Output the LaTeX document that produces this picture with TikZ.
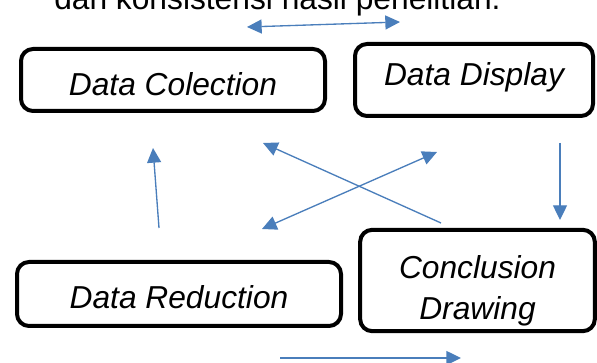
\documentclass[tikz,border=0pt]{standalone}
\usepackage{fontspec}
\setmainfont{Liberation Sans}
\usetikzlibrary{arrows.meta}

\definecolor{flowBlue}{RGB}{74,126,187}

\tikzset{
  stage/.style={draw=black, line width=3pt, rounded corners=9pt, fill=white,
    font=\fontsize{23.8}{30.75}\selectfont\itshape, align=center, inner sep=0pt},
  flow/.style={draw=flowBlue, line width=1pt, -{Triangle[length=11pt,width=10.5pt]}},
  flowBoth/.style={flow, {Triangle[length=11pt,width=10.5pt]}-{Triangle[length=11pt,width=10.5pt]}}
}

\begin{document}
\begin{tikzpicture}[x=0.75pt, y=-0.75pt]
\useasboundingbox (0,0) rectangle (597,363);

\node[anchor=base west, inner sep=0pt, font=\fontsize{23.8}{30}\selectfont] (caption) at (54,10) {dan konsistensi hasil penelitian.};

\node[stage, minimum width=228pt, minimum height=46.5pt, text height=23pt, text depth=0pt] (dataCollection) at (173,80) {Data Colection};
\node[stage, minimum width=178.5pt, minimum height=54pt, text height=17pt, text depth=8.2pt] (dataDisplay) at (474,80) {Data Display};
\node[stage, minimum width=243pt, minimum height=48pt, text height=22.2pt, text depth=0pt] (dataReduction) at (179,294) {Data Reduction};
\node[stage, minimum width=176pt, minimum height=76pt,
  label={[font=\fontsize{23.8}{30.75}\selectfont\itshape, align=center, yshift=-8pt]center:Conclusion\\Drawing}] (conclusion) at (477.5,280.5) {};

\coordinate (topLeft) at (247,27);
\coordinate (topRight) at (400,22);
\coordinate (upTail) at (159,228);
\coordinate (upTip) at (153,148);
\coordinate (crossTail) at (441,223);
\coordinate (crossTip) at (263,143);
\coordinate (crossLeft) at (262,229);
\coordinate (crossRight) at (437,152);
\coordinate (downTail) at (560,143);
\coordinate (downTip) at (560,220);
\coordinate (bottomTail) at (280,358);
\coordinate (bottomTip) at (461,358);

\draw[flowBoth] (topLeft) -- (topRight);
\draw[flow] (upTail) -- (upTip);
\draw[flow] (crossTail) -- (crossTip);
\draw[flowBoth] (crossLeft) -- (crossRight);
\draw[flow] (downTail) -- (downTip);
\draw[flow] (bottomTail) -- (bottomTip);
\end{tikzpicture}
\end{document}
